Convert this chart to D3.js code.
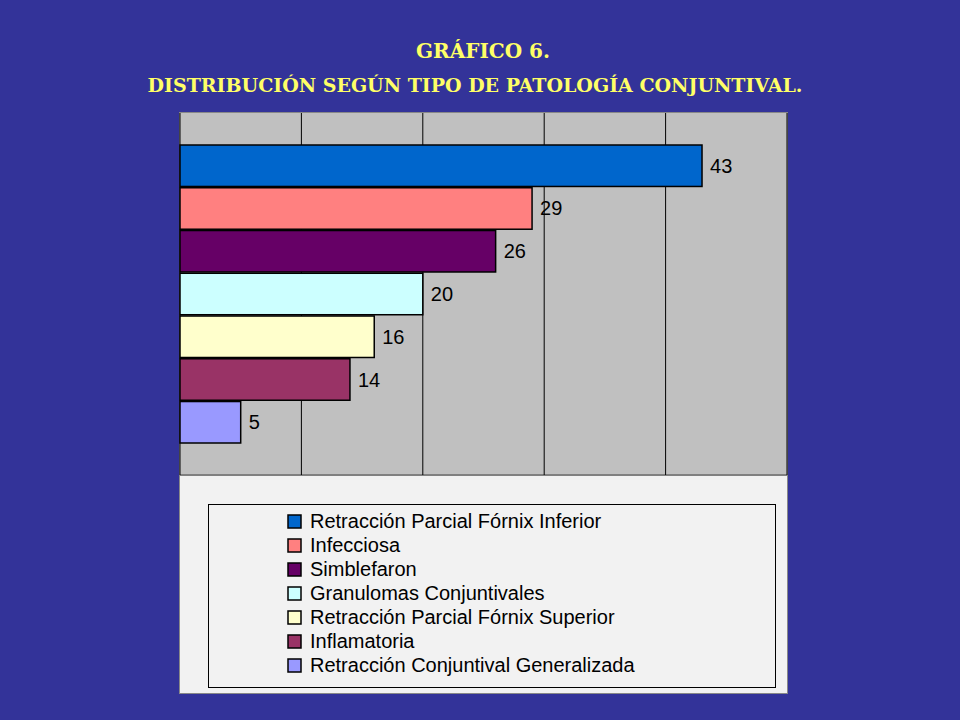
<!DOCTYPE html>
<html><head><meta charset="utf-8">
<script src="https://cdn.jsdelivr.net/npm/d3@7"></script>
<style>body{margin:0;background:#333399;}svg{display:block}</style>
</head><body><svg width="960" height="720"></svg>
<script>
const categories = ["Retracción Parcial Fórnix Inferior","Infecciosa","Simblefaron","Granulomas Conjuntivales","Retracción Parcial Fórnix Superior","Inflamatoria","Retracción Conjuntival Generalizada"];
const values = [43,29,26,20,16,14,5];
const colors = ["#0066CC","#FF8080","#660066","#CCFFFF","#FFFFCC","#993366","#9999FF"];
const ticks = [0,10,20,30,40,50];

const svg = d3.select("svg");
svg.append("rect").attr("width",960).attr("height",720).attr("fill","#333399");
const tf = "'DejaVu Serif', serif";
svg.append("text").attr("x",483).attr("y",58).attr("text-anchor","middle").attr("fill","#FFFF66")
  .attr("font-family",tf).attr("font-weight","bold").attr("font-size",20).text("GRÁFICO 6.");
svg.append("text").attr("x",475).attr("y",92).attr("text-anchor","middle").attr("fill","#FFFF66")
  .attr("font-family",tf).attr("font-weight","bold").attr("font-size",19).text("DISTRIBUCIÓN SEGÚN TIPO DE PATOLOGÍA CONJUNTIVAL.");

svg.append("rect").attr("x",179.5).attr("y",112.5).attr("width",608).attr("height",581).attr("fill","#F2F2F2").attr("stroke","#888");
const x = d3.scaleLinear().domain([0,50]).range([180,787]);
const y = d3.scaleBand().domain(categories).range([145,443]).paddingInner(0.03);
svg.append("rect").attr("x",180).attr("y",113).attr("width",607).attr("height",362).attr("fill","#C0C0C0");
svg.append("line").attr("x1",180).attr("x2",787).attr("y1",475).attr("y2",475).attr("stroke","#808080").attr("stroke-width",2);
svg.selectAll(".g").data(ticks).join("line").attr("x1",d=>x(d)).attr("x2",d=>x(d)).attr("y1",113).attr("y2",475).attr("stroke","#000").attr("stroke-width",1);
svg.selectAll(".b").data(values).join("rect").attr("x",x(0)).attr("y",(d,i)=>y(categories[i]))
  .attr("width",d=>x(d)-x(0)).attr("height",y.bandwidth()).attr("fill",(d,i)=>colors[i]).attr("stroke","#000").attr("stroke-width",1.5);
svg.selectAll(".l").data(values).join("text").attr("x",d=>x(d)+8).attr("y",(d,i)=>y(categories[i])+y.bandwidth()/2+7)
  .attr("font-family","Arial, 'Liberation Sans', sans-serif").attr("font-size",20).attr("fill","#000").text(d=>d);

svg.append("rect").attr("x",208.5).attr("y",504.5).attr("width",567).attr("height",183).attr("fill","#F2F2F2").attr("stroke","#000");
const lg = svg.selectAll(".lg").data(categories).join("g").attr("transform",(d,i)=>`translate(288,${521+i*24})`);
lg.append("rect").attr("x",0).attr("y",-6).attr("width",13).attr("height",13).attr("fill",(d,i)=>colors[i]).attr("stroke","#000").attr("stroke-width",1.5);
lg.append("text").attr("x",22).attr("y",7).attr("font-family","Arial, 'Liberation Sans', sans-serif").attr("font-size",20).attr("fill","#000").text(d=>d);
</script></body></html>
